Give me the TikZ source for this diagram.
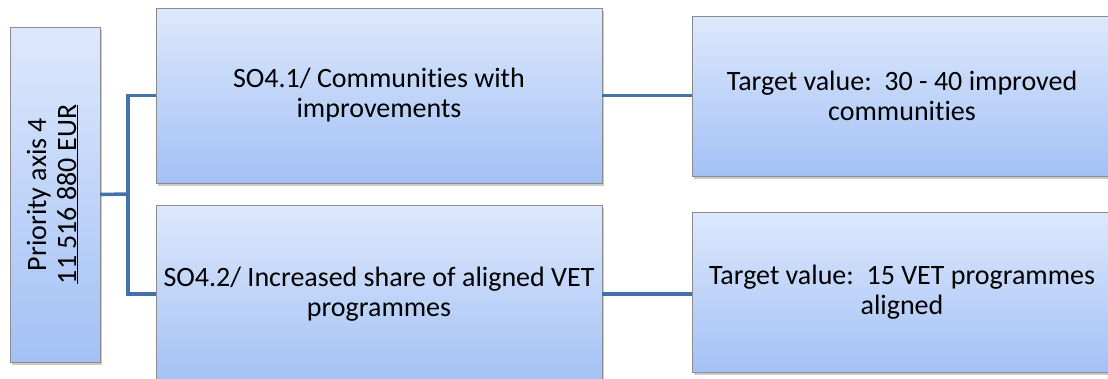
\documentclass[tikz,border=0pt]{standalone}
\usepackage{fontspec}
\setmainfont{Carlito}[Ligatures={NoCommon}]
\usetikzlibrary{shadows}
\definecolor{boxtop}{HTML}{DDE8FC}
\definecolor{boxbot}{HTML}{A3C1F5}
\definecolor{boxline}{HTML}{8C8C8C}
\definecolor{connc}{HTML}{4472A8}
\tikzset{
  pbox/.style={draw=boxline, line width=0.9pt, top color=boxtop, bottom color=boxbot,
    anchor=north west, inner sep=0pt, outer sep=0pt, align=center,
    font=\fontsize{28}{30}\selectfont,
    drop shadow={shadow xshift=2pt, shadow yshift=-3pt, opacity=0.35, fill=black!60}},
  conn/.style={draw=connc, line width=3.5pt}
}
\begin{document}
\begin{tikzpicture}[x=1pt,y=-1pt]
\useasboundingbox (0,0) rectangle (1108,378);
\clip (0,0) rectangle (1108,378);
\node[pbox, minimum width=90pt, minimum height=335pt] (left) at (10,27)
  {\rotatebox{90}{\begin{tabular}{@{}c@{}}Priority axis 4\\[0pt] \underline{11 516 880 EUR}\end{tabular}}};
\node[pbox, minimum width=446pt, minimum height=175pt] (m1) at (156,8)
  {SO4.1/ Communities with\\improvements};
\node[pbox, minimum width=446pt, minimum height=178pt] (m2) at (156,205)
  {SO4.2/ Increased share of aligned VET\\programmes};
\node[pbox, minimum width=420pt, minimum height=160pt] (r1) at (692,16)
  {Target value:\ \ 30 - 40 improved\\communities};
\node[pbox, minimum width=420pt, minimum height=160pt] (r2) at (692,212)
  {Target value:\ \ 15 VET programmes\\aligned};
\coordinate (b) at (128,194);
\draw[conn] (left.east) -- (b);
\draw[conn] (b) |- (m1.west);
\draw[conn] (b) |- (m2.west);
\draw[conn] (m1.east) -- (m1.east -| r1.west);
\draw[conn] (m2.east) -- (m2.east -| r2.west);
\end{tikzpicture}
\end{document}
